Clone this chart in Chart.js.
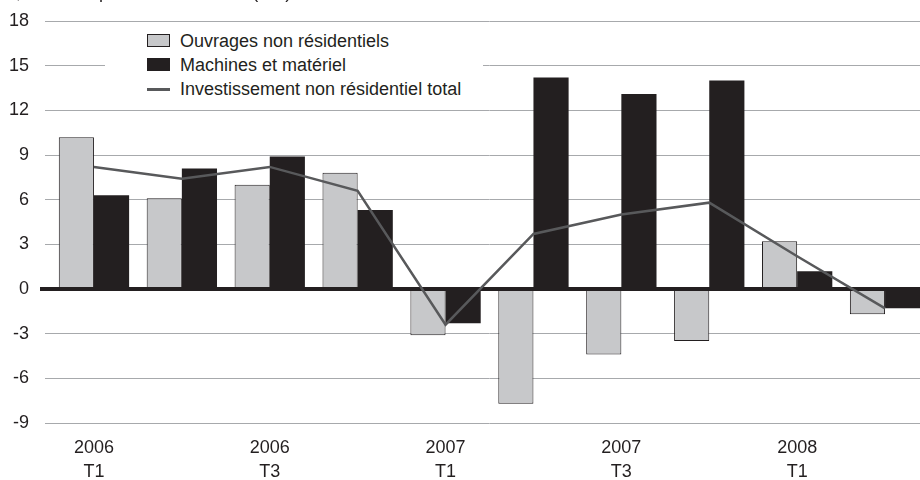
<!DOCTYPE html>
<html>
<head>
<meta charset="utf-8">
<script src="https://cdn.jsdelivr.net/npm/chart.js@4"></script>
<style>
  html, body { margin: 0; padding: 0; background: #fff; overflow: hidden; }
  body { width: 920px; height: 480px; position: relative; font-family: "Liberation Sans", Arial, sans-serif; }
  #wrap { position: absolute; left: 0; top: 0; width: 932px; height: 480px; }
  #topNote { position: absolute; left: 0; top: -17px; font-size: 18px; line-height: 18px; color: #231f20; white-space: nowrap; }
  #legend { position: absolute; left: 105px; top: 29px; width: 378px; height: 72px; background: #fff; }
  .legend-item { position: absolute; left: 42px; height: 24px; font-size: 18px; line-height: 24px; color: #231f20; white-space: nowrap; }
  .legend-item .sw { position: absolute; left: 0; top: 5px; width: 23px; height: 13px; box-sizing: border-box; }
  .legend-item .txt { position: absolute; left: 33px; top: 0; }
</style>
</head>
<body>
<div id="wrap"><canvas id="chart" width="932" height="480"></canvas></div>
<div id="topNote">%, variation par an en volumes (cvs)</div>
<div id="legend"></div>
<script>
const quarters = ["2006 T1", "2006 T2", "2006 T3", "2006 T4", "2007 T1", "2007 T2", "2007 T3", "2007 T4", "2008 T1", "2008 T2"];
const ouvrages = [10.2, 6.1, 7.0, 7.8, -3.1, -7.7, -4.4, -3.5, 3.2, -1.7];
const machines = [6.3, 8.1, 8.9, 5.3, -2.3, 14.2, 13.1, 14.0, 1.2, -1.3];
const totalInvest = [8.2, 7.4, 8.2, 6.6, -2.4, 3.7, 5.0, 5.8, 2.2, -1.3];
const yTicks = [-9, -6, -3, 0, 3, 6, 9, 12, 15, 18];

const seriesNames = ["Ouvrages non résidentiels", "Machines et matériel", "Investissement non résidentiel total"];
const GRAY = "#c7c8ca";
const BLACK = "#231f20";
const LINE = "#58595b";
const GRID = "#a7a9ac";

// legend drawn as html over the plot, white box hides the grid behind it
function buildLegend() {
  const legend = document.getElementById("legend");
  const styles = [
    `background:${GRAY};border:1px solid ${BLACK};`,
    `background:${BLACK};`,
    `background:${LINE};height:3px;top:11px;`,
  ];
  seriesNames.forEach((name, i) => {
    const item = document.createElement("div");
    item.className = "legend-item";
    item.style.top = (i * 24) + "px";
    item.innerHTML = `<span class="sw" style="${styles[i]}"></span><span class="txt">${name}</span>`;
    legend.appendChild(item);
  });
}

const zeroLine = {
  id: "zeroLine",
  beforeDatasetDraw(chart, args) {
    if (args.meta.type !== "line") return;
    const y = chart.scales.y.getPixelForValue(0);
    const ctx = chart.ctx;
    ctx.save();
    ctx.strokeStyle = BLACK;
    ctx.lineWidth = 4;
    ctx.beginPath();
    ctx.moveTo(40, y);
    ctx.lineTo(chart.chartArea.right, y);
    ctx.stroke();
    ctx.restore();
  },
};

function init() {
  buildLegend();
  new Chart(document.getElementById("chart"), {
    type: "bar",
    data: {
      labels: quarters,
      datasets: [
        {
          type: "line",
          label: seriesNames[2],
          data: totalInvest,
          borderColor: LINE,
          borderWidth: 2.5,
          tension: 0,
          pointRadius: 0,
          fill: false,
          order: -1,
        },
        {
          label: seriesNames[0],
          data: ouvrages,
          backgroundColor: GRAY,
          borderColor: BLACK,
          borderWidth: 1,
          categoryPercentage: 0.8,
          barPercentage: 1.0,
        },
        {
          label: seriesNames[1],
          data: machines,
          backgroundColor: BLACK,
          borderColor: BLACK,
          borderWidth: 0,
          categoryPercentage: 0.8,
          barPercentage: 1.0,
        },
      ],
    },
    options: {
      responsive: false,
      animation: false,
      devicePixelRatio: 1,
      layout: { padding: { top: 21, right: 3, left: 0, bottom: 0 } },
      plugins: {
        legend: { display: false },
        tooltip: { enabled: false },
      },
      scales: {
        x: {
          grid: { display: false, drawTicks: false },
          border: { display: false },
          ticks: {
            color: BLACK,
            font: { family: "Liberation Sans", size: 18, lineHeight: 1.333 },
            padding: 13,
            maxRotation: 0,
            autoSkip: false,
            callback: function(value, index) {
              return index % 2 === 0 ? quarters[index].split(" ") : "";
            },
          },
          afterFit: (scale) => { scale.height = 57; },
        },
        y: {
          min: -9,
          max: 18,
          afterBuildTicks: (scale) => { scale.ticks = yTicks.map((v) => ({ value: v })); },
          grid: {
            color: (ctx) => (ctx.tick && ctx.tick.value === 0 ? "rgba(0,0,0,0)" : GRID),
            lineWidth: 1,
            drawTicks: true,
            tickLength: 5,
          },
          border: { display: false },
          ticks: {
            color: BLACK,
            font: { family: "Liberation Sans", size: 18 },
            padding: 16,
          },
          afterFit: (scale) => {
            scale.width = 50;
            scale.paddingTop = 0;
            scale.paddingBottom = 0;
          },
        },
      },
    },
    plugins: [zeroLine],
  });
}

if (document.readyState === "loading") {
  document.addEventListener("DOMContentLoaded", init);
} else {
  init();
}
</script>
</body>
</html>
